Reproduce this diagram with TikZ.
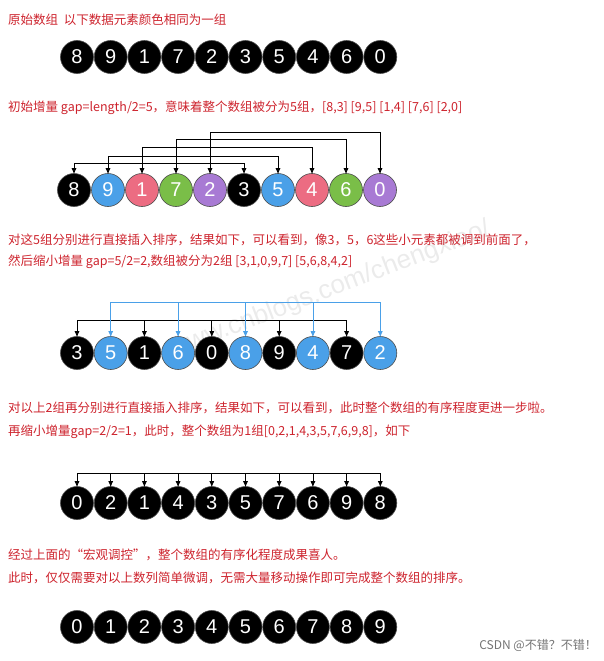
\documentclass[tikz,border=0pt]{standalone}
\usepackage{fontspec}
\setmainfont{Noto Sans CJK SC}
\setsansfont{Liberation Sans}
\usetikzlibrary{arrows.meta}
\definecolor{rd}{RGB}{205,35,45}
\definecolor{cb}{RGB}{74,160,232}
\definecolor{cp}{RGB}{236,108,130}
\definecolor{cg}{RGB}{122,190,72}
\definecolor{cu}{RGB}{168,122,212}
\definecolor{cA}{RGB}{0,0,0}
\tikzset{
 ball/.style={circle,draw=black!70,line width=0.6pt,minimum size=33pt,inner sep=0pt,text=white,font=\sffamily\fontsize{20}{20}\selectfont},
 captxt/.style={anchor=west,text=rd,font=\fontsize{12.5}{14}\selectfont,inner sep=0pt},
 arr/.style={-{Latex[length=6pt,width=5pt]},line width=0.8pt},
}
\begin{document}
\begin{tikzpicture}[x=1pt,y=-1pt]
\useasboundingbox (0,0) rectangle (604,661);
\node[rotate=21,text=black!8,font=\sffamily\fontsize{26}{26}\selectfont] (wm) at (330,290) {www.cnblogs.com/chengxiao/};
% captions
\node[captxt] (t1) at (8,20) {原始数组\ \ 以下数据元素颜色相同为一组};
\node[captxt] (t2) at (8,108) {初始增量 gap=length/2=5，意味着整个数组被分为5组，[8,3] [9,5] [1,4] [7,6] [2,0]};
\node[captxt] (t3) at (8,240) {对这5组分别进行直接插入排序，结果如下，可以看到，像3，5，6这些小元素都被调到前面了，};
\node[captxt] (t4) at (8,262) {然后缩小增量 gap=5/2=2,数组被分为2组 [3,1,0,9,7] [5,6,8,4,2]};
\node[captxt] (t5) at (8,408) {对以上2组再分别进行直接插入排序，结果如下，可以看到，此时整个数组的有序程度更进一步啦。};
\node[captxt] (t6) at (8,432) {再缩小增量gap=2/2=1，此时，整个数组为1组[0,2,1,4,3,5,7,6,9,8]，如下};
\node[captxt] (t7) at (8,555) {经过上面的“宏观调控”，整个数组的有序化程度成果喜人。};
\node[captxt] (t8) at (8,578) {此时，仅仅需要对以上数列简单微调，无需大量移动操作即可完成整个数组的排序。};
\node[anchor=east,text=black!55,font=\fontsize{12}{14}\selectfont,inner sep=0pt] (csdn) at (597,645) {CSDN @不错？不错！};
% row 1
\foreach \v [count=\i from 0] in {8,9,1,7,2,3,5,4,6,0}
  \node[ball,fill=black] (a\i) at (77+33.7*\i,57) {\v};
% row 2
\foreach \v/\c [count=\i from 0] in {8/cA,9/cb,1/cp,7/cg,2/cu,3/cA,5/cb,4/cp,6/cg,0/cu}
  \node[ball,fill=\c] (b\i) at (74+34*\i,190) {\v};
\foreach \i/\h in {0/163,1/156,2/147,3/139,4/132}{
  \pgfmathtruncatemacro\j{\i+5}
  \draw[line width=0.8pt] (b\i.north |- 0,\h) -- (b\j.north |- 0,\h);
  \draw[arr] (b\i.north |- 0,\h) -- ([yshift=-1pt]b\i.north);
  \draw[arr] (b\j.north |- 0,\h) -- ([yshift=-1pt]b\j.north);
}
% row 3
\foreach \v/\c [count=\i from 0] in {3/cA,5/cb,1/cA,6/cb,0/cA,8/cb,9/cA,4/cb,7/cA,2/cb}
  \node[ball,fill=\c] (c\i) at (77+33.7*\i,353) {\v};
\draw[line width=0.8pt] (c0.north |- 0,320) -- (c8.north |- 0,320);
\draw[line width=0.8pt,cb] (c1.north |- 0,302) -- (c9.north |- 0,302);
\foreach \i in {0,2,4,6,8} \draw[arr] (c\i.north |- 0,320) -- ([yshift=-1pt]c\i.north);
\foreach \i in {1,3,5,7,9} \draw[arr,cb] (c\i.north |- 0,302) -- ([yshift=-1pt]c\i.north);
% row 4
\foreach \v [count=\i from 0] in {0,2,1,4,3,5,7,6,9,8}
  \node[ball,fill=black] (d\i) at (77+33.7*\i,503) {\v};
\draw[line width=0.8pt] (d0.north |- 0,473) -- (d9.north |- 0,473);
\foreach \i in {0,...,9} \draw[arr] (d\i.north |- 0,473) -- ([yshift=-1pt]d\i.north);
% row 5
\foreach \v [count=\i from 0] in {0,1,2,3,4,5,6,7,8,9}
  \node[ball,fill=black] (e\i) at (77+33.7*\i,627) {\v};
\end{tikzpicture}
\end{document}
